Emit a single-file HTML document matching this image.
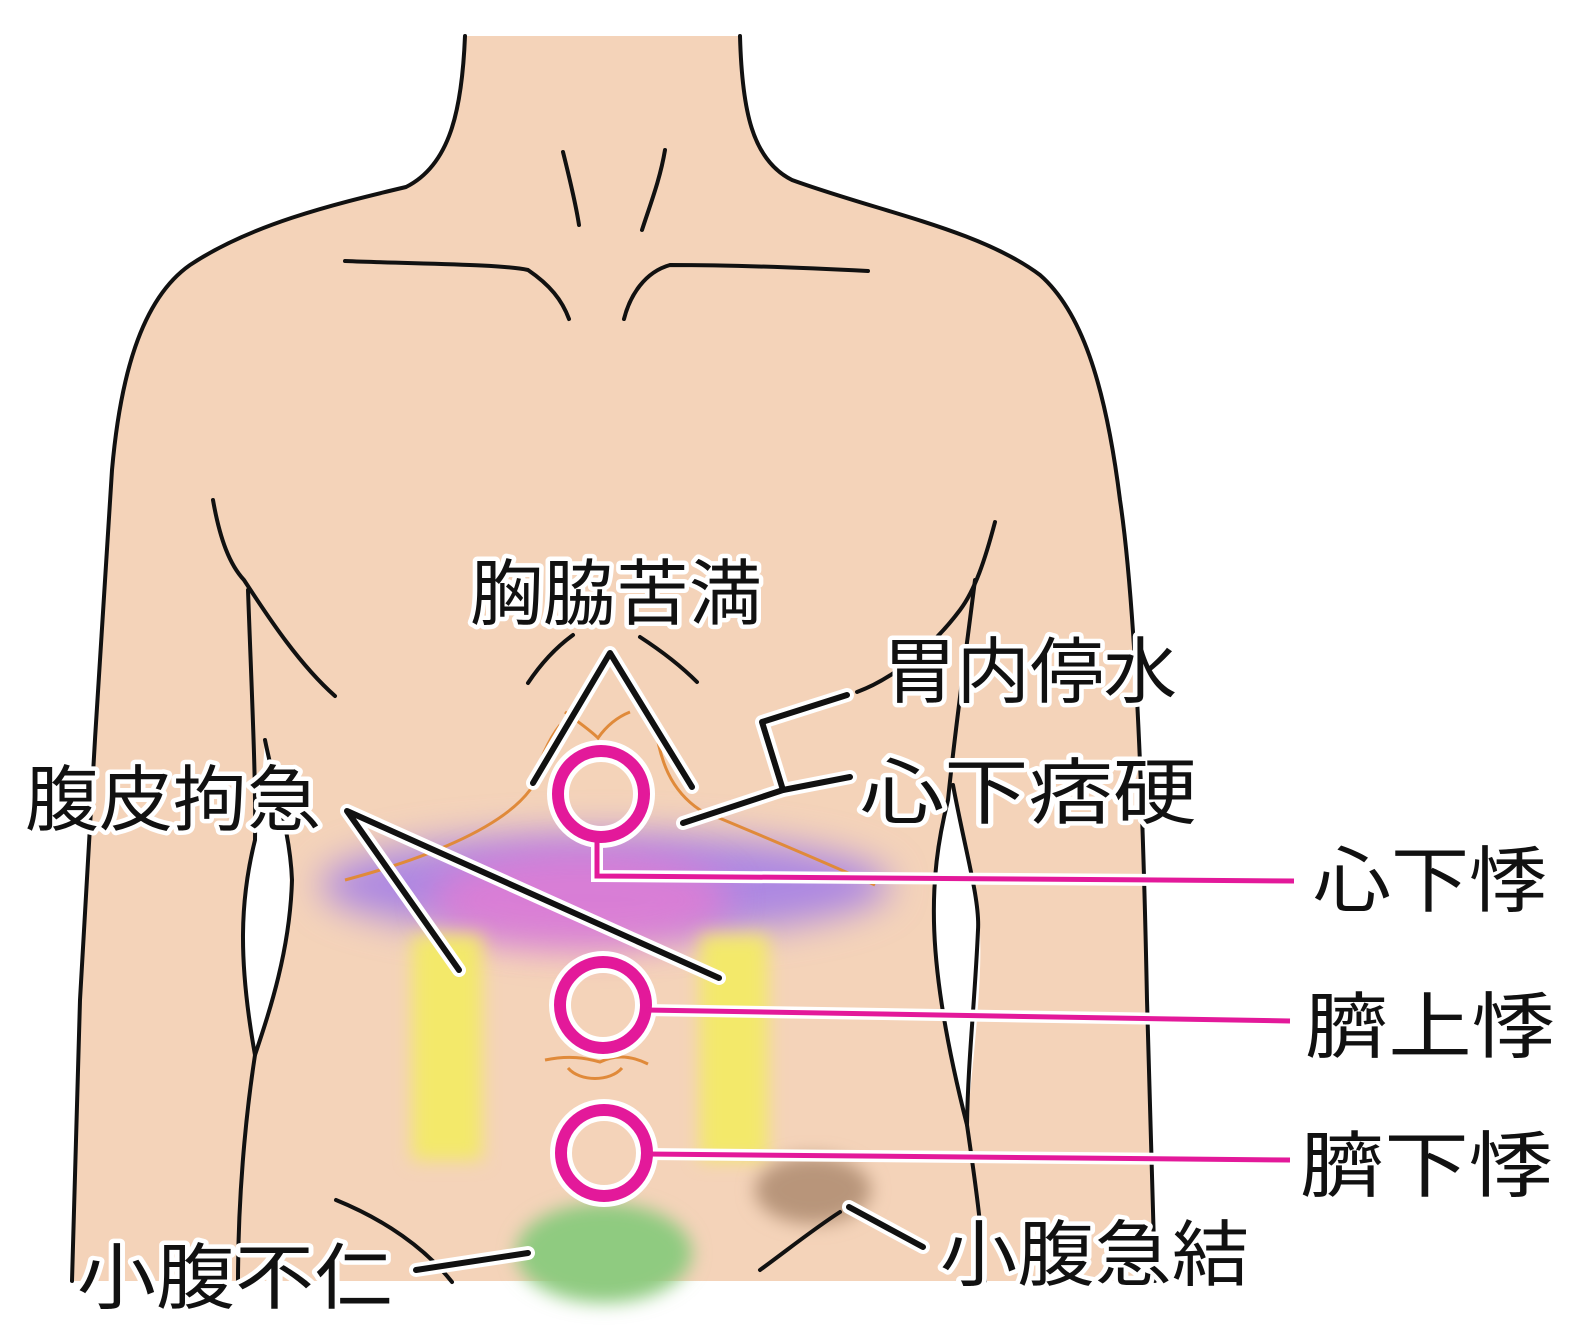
<!DOCTYPE html>
<html><head><meta charset="utf-8"><style>
html,body{margin:0;padding:0;background:#fff;}
svg{display:block}
text{font-family:"Liberation Sans","Noto Sans CJK JP",sans-serif;font-size:72px;fill:#111;stroke:#fff;stroke-width:9px;paint-order:stroke;stroke-linejoin:round}
</style></head><body>
<svg width="1592" height="1332" viewBox="0 0 1592 1332" xmlns="http://www.w3.org/2000/svg">
<defs>
<filter id="b" x="-30%" y="-50%" width="160%" height="200%"><feGaussianBlur stdDeviation="18"/></filter>
<filter id="b2" x="-30%" y="-30%" width="160%" height="160%"><feGaussianBlur stdDeviation="9"/></filter>
</defs>
<!-- body fill -->
<path d="M465,36 L740,36 C742,110 752,160 792,180 C880,212 980,230 1040,275 C1080,310 1105,380 1120,500 C1135,600 1143,800 1147,1000 L1155,1281 L72,1281 L80,1000 C90,820 100,650 112,470 C120,380 140,300 190,265 C250,225 330,205 406,187 C450,165 462,110 465,36 Z" fill="#f4d3b9"/>
<!-- colour blobs -->
<ellipse cx="605" cy="885" rx="285" ry="52" fill="#ad88e2" filter="url(#b)"/>
<ellipse cx="580" cy="900" rx="150" ry="50" fill="#e77ad2" opacity="0.75" filter="url(#b)"/>
<rect x="412" y="935" width="70" height="225" fill="#f3e96a" filter="url(#b2)"/>
<rect x="700" y="935" width="68" height="225" fill="#f3e96a" filter="url(#b2)"/>
<ellipse cx="604" cy="1253" rx="88" ry="50" fill="#8fcb80" filter="url(#b2)"/>
<ellipse cx="813" cy="1190" rx="58" ry="34" fill="#b8957a" filter="url(#b2)"/>
<!-- white gaps -->
<path d="M255,840 C240,900 238,960 255,1055 C280,980 295,920 288,840 C280,800 268,760 265,740 C262,780 260,810 255,840 Z" fill="#fff"/>
<path d="M948,800 C928,880 925,960 967,1125 C975,1040 985,960 978,910 C970,860 960,820 953,785 Z" fill="#fff"/>
<!-- orange lines -->
<g fill="none" stroke="#e08a3a" stroke-width="3">
<path d="M345,880 C420,860 500,830 530,790 C540,760 548,740 560,725"/>
<path d="M655,725 C660,760 670,790 700,810 C760,835 820,860 875,885"/>
<path d="M565,712 C578,722 590,730 598,738 C605,728 615,718 630,712"/>
<path d="M545,1060 C570,1055 585,1058 600,1062 C612,1056 628,1054 648,1064"/>
<path d="M568,1068 C580,1082 610,1082 622,1068"/>
</g>
<!-- outlines -->
<g fill="none" stroke="#111" stroke-width="4" stroke-linecap="round">
<path d="M465,36 C462,110 450,165 406,187 C330,205 250,225 190,265 C140,300 120,380 112,470 C100,650 90,820 80,1000 L72,1281"/>
<path d="M740,36 C742,110 752,160 792,180 C880,212 980,230 1040,275 C1080,310 1105,380 1120,500 C1135,600 1143,800 1147,1000 L1155,1281"/>
<path d="M213,500 C220,540 230,565 244,580 C270,620 300,665 335,696"/>
<path d="M248,590 C252,700 256,780 255,840 C240,900 238,960 255,1055 C245,1120 238,1200 238,1281"/>
<path d="M265,740 C275,790 290,830 292,880 C290,950 270,1010 255,1055"/>
<path d="M995,522 C985,560 975,590 960,610 C930,650 890,680 857,692"/>
<path d="M975,580 C965,660 955,730 948,800 C928,880 925,960 967,1125 C975,1180 982,1230 985,1281"/>
<path d="M953,785 C965,850 980,900 978,930 C975,1000 968,1060 967,1125"/>
<path d="M345,261 C420,264 500,264 528,270 C550,285 562,300 569,319"/>
<path d="M624,319 C630,295 645,272 670,265 C740,265 810,268 868,271"/>
<path d="M563,152 C570,180 576,205 579,225"/>
<path d="M665,150 C660,180 650,205 642,230"/>
<path d="M528,683 C540,665 555,648 573,635"/>
<path d="M640,637 C660,650 680,665 697,682"/>
<path d="M336,1200 C385,1220 425,1248 452,1282"/>
<path d="M760,1270 C790,1248 815,1228 840,1212"/>
</g>
<!-- pointer lines -->
<g fill="none" stroke="#fff" stroke-width="14" stroke-linecap="round" stroke-linejoin="round">
<path d="M533,783 L610,653 L692,787"/>
<path d="M847,695 L762,722 L783,790 L850,777"/>
<path d="M683,823 L783,790"/>
<path d="M459,970 L347,811 L719,978"/>
<path d="M416,1270 L528,1253"/>
<path d="M849,1207 L923,1247"/>
</g>
<g fill="none" stroke="#111" stroke-width="6" stroke-linecap="round" stroke-linejoin="round">
<path d="M533,783 L610,653 L692,787"/>
<path d="M847,695 L762,722 L783,790 L850,777"/>
<path d="M683,823 L783,790"/>
<path d="M459,970 L347,811 L719,978"/>
<path d="M416,1270 L528,1253"/>
<path d="M849,1207 L923,1247"/>
</g>
<!-- magenta -->
<g fill="none" stroke="#fff" stroke-width="22">
<circle cx="601" cy="794" r="43"/><circle cx="603" cy="1005" r="43"/><circle cx="604" cy="1153" r="43"/>
</g>
<g fill="none" stroke="#fff" stroke-width="12">
<path d="M597,838 L597,876 L1294,881 M646,1010 L1290,1021 M647,1154 L1290,1160"/>
</g>
<g fill="none" stroke="#e3199a" stroke-width="12">
<circle cx="601" cy="794" r="43"/><circle cx="603" cy="1005" r="43"/><circle cx="604" cy="1153" r="43"/>
</g>
<g fill="none" stroke="#e3199a" stroke-width="5">
<path d="M597,838 L597,876 L1294,881 M646,1010 L1290,1021 M647,1154 L1290,1160"/>
</g>
<!-- labels -->
<text x="470" y="619" textLength="292" lengthAdjust="spacingAndGlyphs">胸脇苦満</text>
<text x="883" y="697" textLength="294" lengthAdjust="spacingAndGlyphs">胃内停水</text>
<text x="860" y="818" textLength="337" lengthAdjust="spacingAndGlyphs">心下痞硬</text>
<text x="25" y="825" textLength="296" lengthAdjust="spacingAndGlyphs">腹皮拘急</text>
<text x="1313" y="906" textLength="234" lengthAdjust="spacingAndGlyphs">心下悸</text>
<text x="1305" y="1052" textLength="250" lengthAdjust="spacingAndGlyphs">臍上悸</text>
<text x="1300" y="1191" textLength="253" lengthAdjust="spacingAndGlyphs">臍下悸</text>
<text x="77" y="1303" textLength="316" lengthAdjust="spacingAndGlyphs">小腹不仁</text>
<text x="940" y="1280" textLength="309" lengthAdjust="spacingAndGlyphs">小腹急結</text>
</svg>
</body></html>
